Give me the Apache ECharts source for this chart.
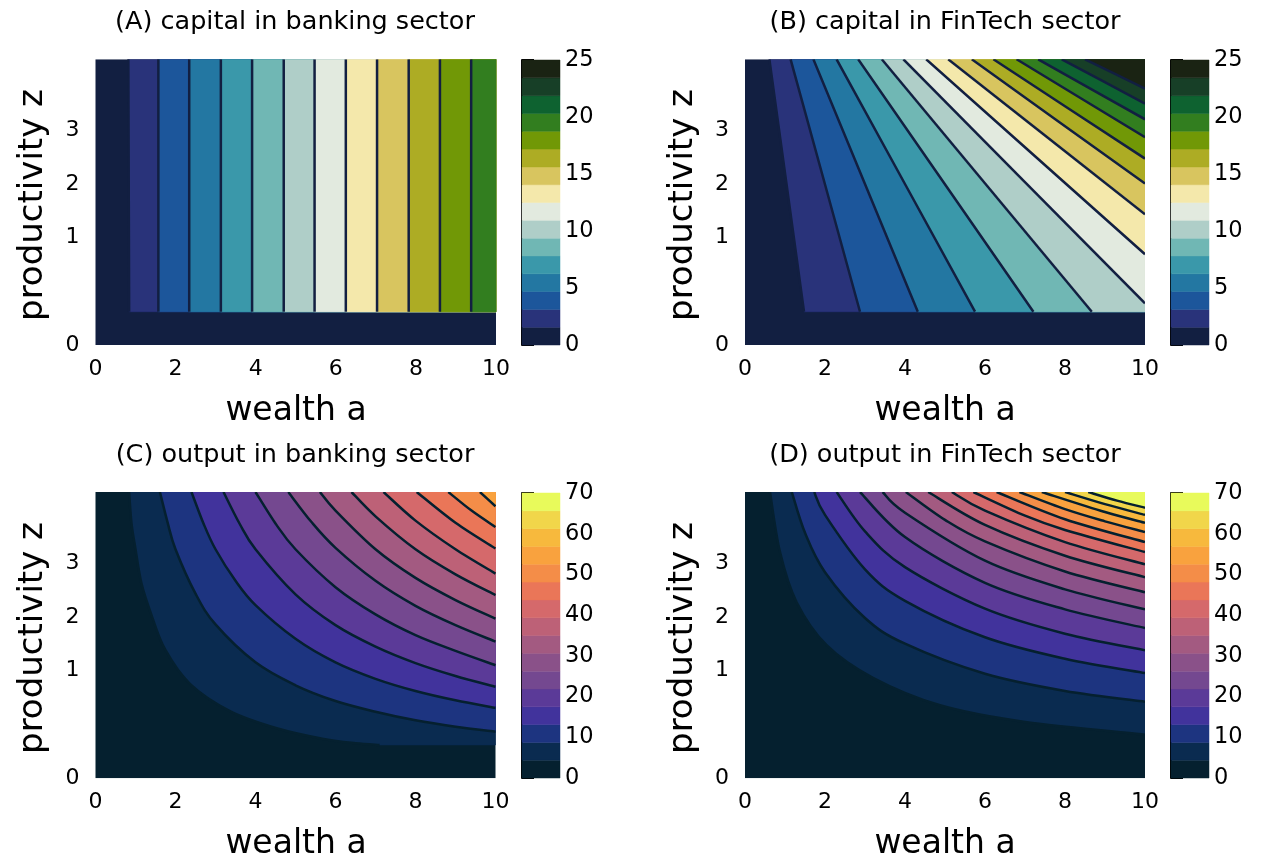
<!DOCTYPE html>
<html><head><meta charset="utf-8">
<script src="https://cdn.jsdelivr.net/npm/echarts@6/dist/echarts.min.js"></script>
<style>html,body{margin:0;background:#fff}#c{width:1270px;height:861px}</style>
</head><body><div id="c"></div>
<script>
// ---------- data ----------
const X_MIN = 0, X_MAX = 10, Z_MIN = 0, Z_TOP = 4;
const Y_TICK_LABELS = ['0', '1', '2', '3'];
const Y_TICK_AT = [0, 1.51, 2.25, 3.01];

const CAP_LEVELS = [0,1.5625,3.125,4.6875,6.25,7.8125,9.375,10.9375,12.5,14.0625,15.625,17.1875,18.75,20.3125,21.875,23.4375,25];
const OUT_LEVELS = [0,4.375,8.75,13.125,17.5,21.875,26.25,30.625,35,39.375,43.75,48.125,52.5,56.875,61.25,65.625,70];

const DELTA_COLORS = ['#121f41','#29337a','#1c569b','#2377a2','#3a98aa','#70b7b4','#afcec8','#e2eadf','#f4e8ab','#d8c55f','#adac24','#719806','#327e1f','#0e6230','#173f27','#1a2313'];
const THERMAL_COLORS = ['#05202f','#0a2b50','#1d3480','#41339c','#5b3a98','#744890','#8a5189','#a35a81','#bd6177','#d5696b','#ea7658','#f48d48','#f9a23e','#f7b93d','#f1d64a','#e8fa5b'];

// (A) capital in banking sector: band boundaries [a, z]
const A_CONTOURS = [
  [[0.82,4],[0.84,0.466]], [[1.57,4],[1.57,0.466]], [[2.34,4],[2.34,0.466]],
  [[3.13,4],[3.13,0.466]], [[3.91,4],[3.91,0.466]], [[4.70,4],[4.70,0.466]],
  [[5.47,4],[5.47,0.466]], [[6.25,4],[6.25,0.466]], [[7.03,4],[7.03,0.466]],
  [[7.82,4],[7.82,0.466]], [[8.60,4],[8.60,0.466]], [[9.38,4],[9.38,0.466]]
];
// (B) capital in FinTech sector
const B_CONTOURS = [
  [[0.61,4],[1.475,0.466]], [[1.14,4],[2.875,0.466]], [[1.71,4],[4.32,0.466]],
  [[2.29,4],[5.75,0.466]], [[2.83,4],[7.21,0.466]], [[3.42,4],[8.67,0.466]],
  [[3.96,4],[10,0.584]], [[4.53,4],[10,1.27]], [[5.08,4],[10,1.83]],
  [[5.67,4],[10,2.26]], [[6.21,4],[10,2.61]], [[6.79,4],[10,2.91]],
  [[7.33,4],[10,3.16]], [[7.92,4],[10,3.38]], [[8.5,4],[10,3.59]]
];
// (C) output in banking sector
const C_CONTOURS = [
  [[0.84,4],[0.9,3.56],[1.0,3.2],[1.15,2.72],[1.4,2.28],[1.74,1.8],[2.36,1.32],[3.36,0.94],[4.53,0.70],[5.7,0.55],[6.5,0.49],[7.1,0.466]],
  [[1.61,4],[1.8,3.58],[2,3.2],[2.5,2.58],[3,2.15],[4,1.62],[5,1.3],[6,1.08],[7,0.93],[8,0.81],[9,0.72],[10,0.65]],
  [[2.40,4],[2.7,3.56],[3,3.2],[3.5,2.76],[4,2.42],[5,1.95],[6,1.62],[7,1.39],[8,1.22],[9,1.09],[10,0.985]],
  [[3.2,4],[3.6,3.56],[4,3.2],[5,2.57],[6,2.14],[7,1.84],[8,1.61],[9,1.43],[10,1.28]],
  [[4.0,4],[4.5,3.56],[5,3.2],[6,2.67],[7,2.29],[8,2.0],[9,1.78],[10,1.58]],
  [[4.82,4],[5.4,3.58],[6,3.22],[7,2.76],[8,2.41],[9,2.14],[10,1.91]],
  [[5.61,4],[6,3.74],[7,3.2],[8,2.8],[9,2.49],[10,2.23]],
  [[6.40,4],[7,3.66],[8,3.2],[9,2.85],[10,2.56]],
  [[7.2,4],[8,3.6],[9,3.2],[10,2.86]],
  [[8.03,4],[9,3.57],[10,3.21]],
  [[8.82,4],[9.4,3.74],[10,3.51]],
  [[9.61,4],[10,3.80]]
];
// (D) output in FinTech sector
const D_CONTOURS = [
  [[0.625,4],[0.875,3.16],[1.29,2.46],[2.04,1.86],[3.21,1.40],[4.875,1.02],[6.96,0.79],[10,0.61]],
  [[1.17,4],[1.5,3.43],[2,2.88],[3,2.24],[4,1.88],[6,1.46],[8,1.22],[10,1.07]],
  [[1.73,4],[2,3.68],[3,2.92],[4,2.48],[6,1.97],[8,1.67],[10,1.47]],
  [[2.29,4],[3,3.45],[4,2.95],[6,2.37],[8,2.02],[10,1.79]],
  [[2.875,4],[4,3.37],[6,2.73],[8,2.36],[10,2.10]],
  [[3.44,4],[4,3.71],[6,3.04],[8,2.64],[10,2.36]],
  [[4.02,4],[5,3.61],[6,3.31],[8,2.89],[10,2.6]],
  [[4.58,4],[6,3.54],[8,3.11],[10,2.81]],
  [[5.17,4],[6,3.74],[8,3.30],[10,2.99]],
  [[5.71,4],[7,3.67],[8,3.47],[10,3.16]],
  [[6.29,4],[8,3.62],[10,3.30]],
  [[6.86,4],[8,3.76],[9,3.59],[10,3.44]],
  [[7.42,4],[9,3.72],[10,3.57]],
  [[8.0,4],[9,3.83],[10,3.68]],
  [[8.58,4],[9.3,3.88],[10,3.78]]
];

const TITLES = ['(A) capital in banking sector','(B) capital in FinTech sector','(C) output in banking sector','(D) output in FinTech sector'];
const X_NAME = 'wealth a', Y_NAME = 'productivity z';

// ---------- layout ----------
const FONT = 'DejaVu Sans';
const PANELS = [
  {grid:{left:95.5,top:59.3,width:400.5,height:285.7}, cb:{left:522,top:60,width:38,height:285}, contours:A_CONTOURS, colors:DELTA_COLORS, levels:CAP_LEVELS, cbInt:5, line:'#121f41'},
  {grid:{left:745,top:59.3,width:400,height:285.7}, cb:{left:1171,top:60,width:38,height:285}, contours:B_CONTOURS, colors:DELTA_COLORS, levels:CAP_LEVELS, cbInt:5, line:'#121f41'},
  {grid:{left:95.5,top:492,width:400,height:286.3}, cb:{left:522,top:493,width:38,height:285}, contours:C_CONTOURS, colors:THERMAL_COLORS, levels:OUT_LEVELS, cbInt:10, line:'#05202f'},
  {grid:{left:745,top:492,width:400,height:286.3}, cb:{left:1171,top:493,width:38,height:285}, contours:D_CONTOURS, colors:THERMAL_COLORS, levels:OUT_LEVELS, cbInt:10, line:'#05202f'}
];
const TITLE_POS = [[295,22],[945,22],[295,455],[945,455]];
const XNAME_POS = [[296,411],[945,411],[296,844],[945,844]];
const YNAME_POS = [[33,205],[683,205],[33,638],[683,638]];

// smooth (Catmull-Rom) path through pixel points
function curveD(px){
  let d = 'M' + px[0][0] + ' ' + px[0][1];
  const n = px.length;
  for (let i = 0; i < n - 1; i++) {
    const p0 = px[Math.max(i-1,0)], p1 = px[i], p2 = px[i+1], p3 = px[Math.min(i+2,n-1)];
    const c1 = [p1[0] + (p2[0]-p0[0])/6, p1[1] + (p2[1]-p0[1])/6];
    const c2 = [p2[0] - (p3[0]-p1[0])/6, p2[1] - (p3[1]-p1[1])/6];
    d += ' C' + c1[0] + ' ' + c1[1] + ' ' + c2[0] + ' ' + c2[1] + ' ' + p2[0] + ' ' + p2[1];
  }
  return d;
}
function regionD(contour, api){
  const px = contour.map(p => api.coord(p));
  let d = curveD(px);
  const last = contour[contour.length-1];
  if (last[0] < X_MAX) { const q = api.coord([X_MAX, last[1]]); d += ' L' + q[0] + ' ' + q[1]; }
  const c = api.coord([X_MAX, Z_TOP]); d += ' L' + c[0] + ' ' + c[1] + ' Z';
  return d;
}

const grid = [], xAxis = [], yAxis = [], series = [], graphic = [];
PANELS.forEach((P, k) => {
  const gi = grid.length;
  grid.push(Object.assign({containLabel:false}, P.grid));
  xAxis.push({type:'value', gridIndex:gi, min:X_MIN, max:X_MAX, interval:2,
    axisLine:{show:false}, axisTick:{show:false}, splitLine:{show:false},
    axisLabel:{fontSize:22, color:'#000', fontFamily:FONT, margin:13, showMinLabel:true, showMaxLabel:true}});
  yAxis.push({type:'value', gridIndex:gi, min:Z_MIN, max:Z_TOP,
    axisLine:{show:false}, axisTick:{show:false}, splitLine:{show:false},
    axisLabel:{fontSize:22, color:'#000', fontFamily:FONT, margin:16, customValues:Y_TICK_AT,
      formatter: v => { let best=0; Y_TICK_AT.forEach((t,i)=>{ if (Math.abs(t-v) < Math.abs(Y_TICK_AT[best]-v)) best=i; }); return Y_TICK_LABELS[best]; }}});
  // background = lowest band
  series.push({type:'custom', xAxisIndex:gi, yAxisIndex:gi, clip:true, silent:true, data:[[0]],
    renderItem:(params, api) => { const p0 = api.coord([X_MIN, Z_TOP]), p1 = api.coord([X_MAX, Z_MIN]);
      return {type:'rect', shape:{x:p0[0], y:p0[1], width:p1[0]-p0[0], height:p1[1]-p0[1]}, style:{fill:P.colors[0]}}; }});
  // filled bands above each contour
  series.push({type:'custom', xAxisIndex:gi, yAxisIndex:gi, clip:true, silent:true,
    data: P.contours.map((c,i)=>[i]),
    renderItem:(params, api) => ({type:'path', shape:{pathData:regionD(P.contours[params.dataIndex], api)},
      style:{fill:P.colors[params.dataIndex+1], stroke:P.colors[params.dataIndex+1], lineWidth:0.6}})
  });
  // contour lines
  series.push({type:'custom', xAxisIndex:gi, yAxisIndex:gi, clip:true, silent:true,
    data: P.contours.map((c,i)=>[i]),
    renderItem:(params, api) => ({type:'path', shape:{pathData:curveD(P.contours[params.dataIndex].map(p=>api.coord(p)))},
      style:{fill:null, stroke:P.line, lineWidth:2.5}})
  });
  // colorbar
  const ci = grid.length;
  grid.push(Object.assign({containLabel:false}, P.cb));
  xAxis.push({type:'value', gridIndex:ci, min:0, max:1, show:false});
  const lv = P.levels;
  yAxis.push({type:'value', gridIndex:ci, min:lv[0], max:lv[lv.length-1], interval:P.cbInt, position:'right',
    axisLine:{show:true, lineStyle:{color:'#000', width:2}}, axisTick:{show:true, length:12, lineStyle:{color:'#000', width:2}},
    splitLine:{show:false}, axisLabel:{fontSize:22.5, color:'#000', fontFamily:FONT, margin:5, showMinLabel:true, showMaxLabel:true}});
  series.push({type:'custom', xAxisIndex:ci, yAxisIndex:ci, silent:true,
    data: P.colors.map((c,i)=>[i]),
    renderItem:(params, api) => { const i = params.dataIndex; const p0 = api.coord([0, lv[i]]), p1 = api.coord([1, lv[i+1]]);
      return {type:'rect', shape:{x:p0[0], y:p1[1], width:p1[0]-p0[0], height:p0[1]-p1[1]}, style:{fill:P.colors[i], stroke:P.colors[i], lineWidth:0.5}}; }
  });
  graphic.push({type:'text', x:TITLE_POS[k][0], y:TITLE_POS[k][1], style:{text:TITLES[k], fontSize:25.5, fontFamily:FONT, fill:'#000', align:'center', verticalAlign:'middle'}});
  graphic.push({type:'text', x:XNAME_POS[k][0], y:XNAME_POS[k][1], style:{text:X_NAME, fontSize:33, fontFamily:FONT, fill:'#000', align:'center', verticalAlign:'middle'}});
  graphic.push({type:'text', x:YNAME_POS[k][0], y:YNAME_POS[k][1], rotation:Math.PI/2, style:{text:Y_NAME, fontSize:34, fontFamily:FONT, fill:'#000', align:'center', verticalAlign:'middle'}});
});

const chart = echarts.init(document.getElementById('c'), null, {renderer:'canvas'});
chart.setOption({animation:false, backgroundColor:'#fff', grid, xAxis, yAxis, series, graphic});
</script></body></html>
